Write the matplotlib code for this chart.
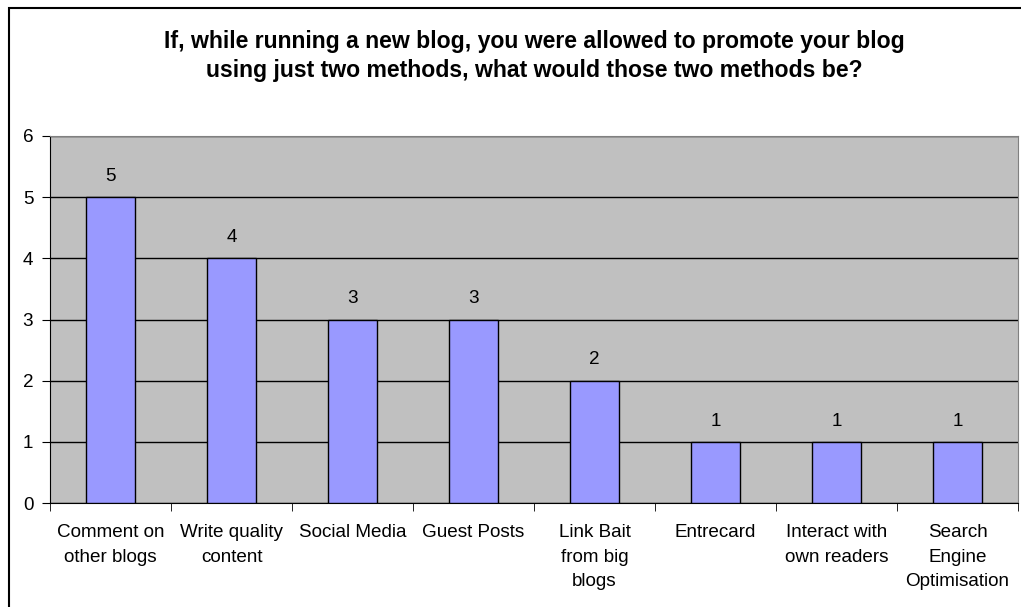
import matplotlib as mpl
import matplotlib.pyplot as plt
import matplotlib.patches as patches
import numpy as np

mpl.rcParams['font.family'] = ['Liberation Sans', 'DejaVu Sans']
mpl.rcParams['font.size'] = 13.6

# dados
metodos = ['Comment on\nother blogs', 'Write quality\ncontent', 'Social Media',
           'Guest Posts', 'Link Bait\nfrom big\nblogs', 'Entrecard',
           'Interact with\nown readers', 'Search\nEngine\nOptimisation']
votos = [5, 4, 3, 3, 2, 1, 1, 1]
titulo = ('If, while running a new blog, you were allowed to promote your blog\n'
          'using just two methods, what would those two methods be?')

W, H = 1021, 607
fig = plt.figure(figsize=(W / 100, H / 100), dpi=100)

# moldura do gráfico (estilo Excel)
fig.patches.append(patches.Rectangle((9 / W, -0.1), 1.1, 1 - 8 / H + 0.1,
                                     transform=fig.transFigure, fill=False,
                                     edgecolor='black', linewidth=1.5))

ax = fig.add_axes([50 / W, (H - 503) / H, 968 / W, 367 / H])
ax.set_facecolor('#C0C0C0')

x = np.arange(len(votos))
ax.bar(x, votos, width=0.4, color='#9999FF', edgecolor='black', linewidth=1, zorder=3)
for xi, v in zip(x, votos):
    ax.text(xi, v + 0.2, str(v), ha='center', va='bottom', zorder=4)

ax.set_xlim(-0.5, len(votos) - 0.5)
ax.set_ylim(0, 6)
ax.set_yticks(range(7))
ax.yaxis.grid(True, color='black', linewidth=1, zorder=1)
ax.set_axisbelow(True)

ax.set_xticks(x)
ax.set_xticklabels(metodos, linespacing=1.6)
ax.set_xticks(np.arange(-0.5, len(votos)), minor=True)
ax.tick_params(axis='x', which='major', length=0, pad=15)
ax.tick_params(axis='x', which='minor', length=6, direction='out', color='black')
ax.tick_params(axis='y', length=6, direction='out', pad=6)

for s in ['top', 'right']:
    ax.spines[s].set_color('#808080')
for s in ['left', 'bottom']:
    ax.spines[s].set_color('black')

fig.text(0.5 * (50 + 1018) / W, 1 - 56 / H, titulo, ha='center', va='center',
         fontsize=16.6, fontweight='bold', linespacing=1.3)

plt.savefig('out.png', dpi=100)
plt.close()
